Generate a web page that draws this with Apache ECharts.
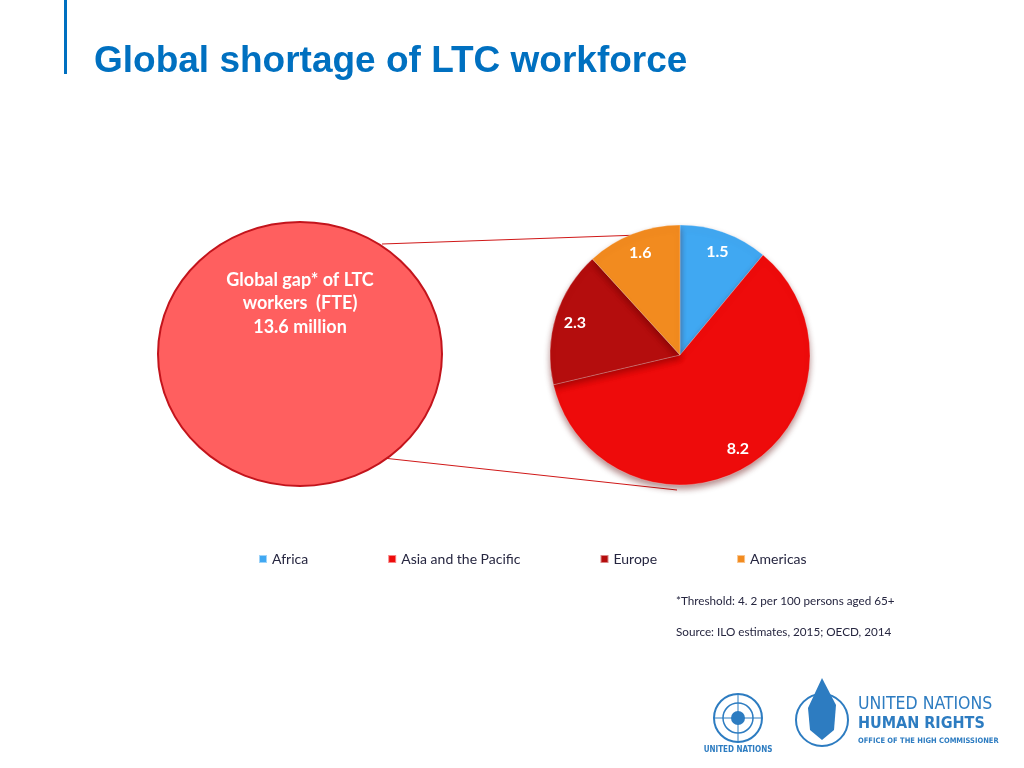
<!DOCTYPE html>
<html>
<head>
<meta charset="utf-8">
<script src="https://cdn.jsdelivr.net/npm/echarts@6/dist/echarts.min.js"></script>
<style>
  html, body { margin: 0; padding: 0; background: #fff; }
  #main { width: 1024px; height: 768px; }
</style>
</head>
<body>
<div id="main"></div>
<script>
// regions and their shortage (million FTE)
var regions = ['Africa', 'Asia and the Pacific', 'Europe', 'Americas'];
var gapValues = [1.5, 8.2, 2.3, 1.6];
var regionColors = ['#40A8F2', '#EE0B0B', '#B40D0D', '#F28B1F'];
var totalText = ['Global gap* of LTC', 'workers  (FTE)', '13.6 million'];
var notes = ['*Threshold: 4. 2 per 100 persons aged 65+', 'Source: ILO estimates, 2015; OECD, 2014'];

var pieData = regions.map(function (name, i) {
  return { name: name, value: gapValues[i], itemStyle: { color: regionColors[i] } };
});

var condensed = '"DejaVu Sans Condensed", "Liberation Sans"';

var myChart = echarts.init(document.getElementById('main'));

myChart.setOption({
  backgroundColor: '#fff',
  title: {
    text: 'Global shortage of LTC workforce',
    left: 89,
    top: 38,
    textStyle: { fontFamily: 'Liberation Sans', fontWeight: 'bold', fontSize: 37, color: '#0070C0' }
  },
  legend: {
    data: regions,
    left: 253,
    top: 547,
    itemWidth: 8,
    itemHeight: 8,
    itemGap: 79,
    icon: 'rect',
    textStyle: { fontFamily: 'Lato', fontSize: 14, color: '#262640' }
  },
  graphic: [
    { type: 'rect', left: 64, top: 0, shape: { width: 3, height: 74 }, style: { fill: '#0070C0' } },
    { type: 'line', z: 1, shape: { x1: 382, y1: 244, x2: 640, y2: 235 }, style: { stroke: '#D01818', lineWidth: 1 } },
    { type: 'line', z: 1, shape: { x1: 383, y1: 458, x2: 677, y2: 490 }, style: { stroke: '#D01818', lineWidth: 1 } },
    {
      type: 'ellipse', z: 5,
      shape: { cx: 300, cy: 354, rx: 142, ry: 132 },
      style: { fill: '#FF5F5F', stroke: '#C3141C', lineWidth: 2 }
    },
    {
      type: 'text', z: 6, x: 300, y: 268,
      style: {
        text: totalText.join('\n'),
        fill: '#fff', font: 'bold 18px Lato', align: 'center', lineHeight: 23.5
      }
    },
    {
      type: 'text', x: 676, y: 595,
      style: { text: notes[0], fill: '#262640', font: '11.7px Lato' }
    },
    {
      type: 'text', x: 676, y: 626,
      style: { text: notes[1], fill: '#262640', font: '11.7px Lato' }
    },
    // UN emblem (simplified)
    { type: 'circle', shape: { cx: 738, cy: 718, r: 24 }, style: { fill: 'none', stroke: '#2D7CC1', lineWidth: 2 } },
    { type: 'circle', shape: { cx: 738, cy: 718, r: 15 }, style: { fill: 'none', stroke: '#2D7CC1', lineWidth: 1.5 } },
    { type: 'circle', shape: { cx: 738, cy: 718, r: 7 }, style: { fill: '#2D7CC1' } },
    { type: 'line', shape: { x1: 714, y1: 718, x2: 762, y2: 718 }, style: { stroke: '#2D7CC1', lineWidth: 1 } },
    { type: 'line', shape: { x1: 738, y1: 694, x2: 738, y2: 742 }, style: { stroke: '#2D7CC1', lineWidth: 1 } },
    {
      type: 'text', x: 738, y: 746,
      style: { text: 'UNITED NATIONS', fill: '#2D7CC1', font: 'bold 8px ' + condensed, align: 'center' }
    },
    // OHCHR flame (simplified)
    { type: 'circle', shape: { cx: 822, cy: 720, r: 26 }, style: { fill: 'none', stroke: '#2D7CC1', lineWidth: 2 } },
    {
      type: 'polygon',
      shape: { points: [[822, 678], [836, 705], [834, 730], [822, 740], [810, 730], [808, 708]] },
      style: { fill: '#2D7CC1' }
    },
    {
      type: 'text', x: 858, y: 695,
      style: { text: 'UNITED NATIONS', fill: '#2D7CC1', font: '17.5px ' + condensed }
    },
    {
      type: 'text', x: 858, y: 716,
      style: { text: 'HUMAN RIGHTS', fill: '#2D7CC1', font: 'bold 16px ' + condensed }
    },
    {
      type: 'text', x: 858, y: 737,
      style: { text: 'OFFICE OF THE HIGH COMMISSIONER', fill: '#2D7CC1', font: 'bold 7.5px ' + condensed }
    }
  ],
  series: [
    {
      type: 'pie',
      center: [680, 355],
      radius: 130,
      startAngle: 90,
      clockwise: true,
      label: { show: false },
      labelLine: { show: false },
      emphasis: { disabled: true },
      itemStyle: {
        borderColor: 'rgba(255,255,255,0.5)',
        borderWidth: 0.5,
        shadowBlur: 6,
        shadowOffsetY: 4,
        shadowColor: 'rgba(90,0,0,0.45)'
      },
      data: pieData
    },
    {
      // invisible ring used to place the value labels further out
      type: 'pie',
      center: [680, 355],
      radius: [82, 132],
      startAngle: 90,
      clockwise: true,
      silent: true,
      legendHoverLink: false,
      itemStyle: { color: 'rgba(0,0,0,0)' },
      label: {
        show: true,
        position: 'inside',
        formatter: '{c}',
        color: '#fff',
        fontFamily: 'Lato',
        fontWeight: 'bold',
        fontSize: 16
      },
      labelLine: { show: false },
      data: regions.map(function (name, i) { return { name: name + ' ', value: gapValues[i] }; })
    }
  ]
});
</script>
</body>
</html>
